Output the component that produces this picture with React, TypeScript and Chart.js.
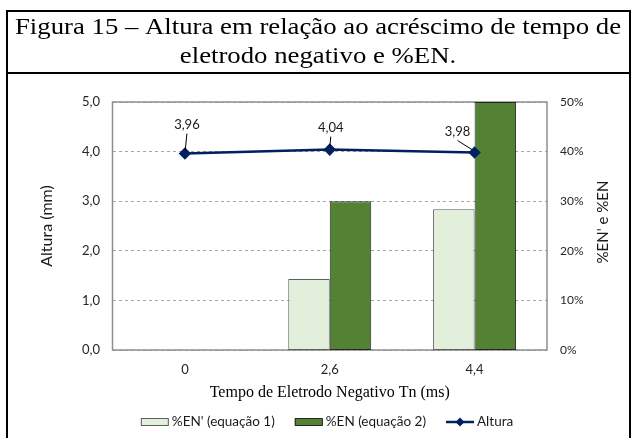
import React, { useEffect, useRef } from 'react';
import { Chart, registerables } from 'chart.js';

Chart.register(...registerables);

const CAPTION_LINES = ['Figura 15 – Altura em relação ao acréscimo de tempo de', 'eletrodo negativo e %EN.'];
const CATEGORIES = ['0', '2,6', '4,4'];
const EN_EQ1 = [0, 14.3, 28.4];
const EN_EQ2 = [0, 30.0, 50.0];
const ALTURA = [3.96, 4.04, 3.98];
const SERIES_LABELS = ["%EN' (equação 1)", '%EN (equação 2)', 'Altura'];
const X_TITLE = 'Tempo de Eletrodo Negativo Tn (ms)';
const Y_LEFT_TITLE = 'Altura (mm)';
const Y_RIGHT_TITLE = "%EN' e %EN";
const LEFT_RANGE = [0, 5, 1];
const RIGHT_RANGE = [0, 50, 10];

const SANS = 'Lato, "Open Sans", "DejaVu Sans", sans-serif';
const SERIF = '"Liberation Serif", "Times New Roman", serif';
const LABEL_OFFSETS = [
  { dx: 2, dy: -29 },
  { dx: 1, dy: -22 },
  { dx: -17, dy: -21 },
];

const fmtComma = (v: number, d: number) => v.toFixed(d).replace('.', ',');

const framePlugin = {
  id: 'frameCaption',
  beforeDraw(chart: any) {
    const { ctx, width, height } = chart;
    ctx.save();
    ctx.fillStyle = '#ffffff';
    ctx.fillRect(0, 0, width, height);
    ctx.strokeStyle = '#000000';
    ctx.lineWidth = 2;
    ctx.beginPath();
    ctx.moveTo(7, height + 2);
    ctx.lineTo(7, 11);
    ctx.lineTo(630, 11);
    ctx.lineTo(630, height + 2);
    ctx.moveTo(6, 73);
    ctx.lineTo(631, 73);
    ctx.stroke();
    ctx.font = `24px ${SERIF}`;
    ctx.fillStyle = '#000000';
    ctx.textAlign = 'center';
    ctx.textBaseline = 'alphabetic';
    const w0 = ctx.measureText(CAPTION_LINES[0]).width;
    const sx = 606 / w0;
    CAPTION_LINES.forEach((line, i) => {
      ctx.save();
      ctx.translate(318, 34 + i * 28.5);
      ctx.scale(sx, 1);
      ctx.fillText(line, 0, 0);
      ctx.restore();
    });
    ctx.restore();
  },
};

const plotBorderPlugin = {
  id: 'plotBorder',
  beforeDatasetsDraw(chart: any) {
    const { ctx, chartArea } = chart;
    ctx.save();
    ctx.strokeStyle = '#8e8e8e';
    ctx.lineWidth = 1.5;
    ctx.strokeRect(chartArea.left, chartArea.top, chartArea.right - chartArea.left, chartArea.bottom - chartArea.top);
    ctx.restore();
  },
};

const rightTitlePlugin = {
  id: 'rightTitle',
  afterDraw(chart: any) {
    const { ctx, chartArea } = chart;
    ctx.save();
    ctx.translate(603, (chartArea.top + chartArea.bottom) / 2 - 4);
    ctx.rotate(-Math.PI / 2);
    ctx.font = `15px ${SANS}`;
    ctx.fillStyle = '#1a1a1a';
    ctx.textAlign = 'center';
    ctx.textBaseline = 'middle';
    ctx.fillText(Y_RIGHT_TITLE, 0, 0);
    ctx.restore();
  },
};

const dataLabelPlugin = {
  id: 'lineLabels',
  afterDatasetsDraw(chart: any) {
    const { ctx } = chart;
    chart.data.datasets.forEach((ds: any, di: number) => {
      if (ds.type !== 'line') return;
      const meta = chart.getDatasetMeta(di);
      meta.data.forEach((pt: any, i: number) => {
        const off = LABEL_OFFSETS[i] || { dx: 0, dy: -22 };
        const lx = pt.x + off.dx;
        const ly = pt.y + off.dy;
        ctx.save();
        ctx.strokeStyle = '#000000';
        ctx.lineWidth = 1;
        ctx.beginPath();
        const sx = lx;
        const sy = ly + 9;
        const ex = pt.x + (sx - pt.x) * 0.15;
        const ey = pt.y - 3;
        ctx.moveTo(sx, sy);
        ctx.lineTo(ex, ey);
        ctx.stroke();
        ctx.font = `13px ${SANS}`;
        ctx.fillStyle = '#1a1a1a';
        ctx.textAlign = 'center';
        ctx.textBaseline = 'middle';
        ctx.fillText(fmtComma(ds.data[i], 2), lx, ly);
        ctx.restore();
      });
    });
  },
};

const legendPlugin = {
  id: 'customLegend',
  afterDraw(chart: any) {
    const { ctx } = chart;
    const ds = chart.data.datasets;
    ctx.save();
    ctx.font = `13.5px ${SANS}`;
    const symW = 28;
    const gapST = 3;
    const gapItems = 20;
    const widths = ds.map((d: any) => ctx.measureText(d.label).width);
    const total = widths.reduce((a: number, w: number) => a + symW + gapST + w, 0) + gapItems * (ds.length - 1);
    let x = 327 - total / 2;
    const y = 422;
    ds.forEach((d: any, i: number) => {
      if (d.type === 'line') {
        ctx.strokeStyle = d.borderColor;
        ctx.lineWidth = 2.5;
        ctx.beginPath();
        ctx.moveTo(x, y);
        ctx.lineTo(x + symW, y);
        ctx.stroke();
        ctx.fillStyle = d.borderColor;
        const cx = x + symW / 2;
        ctx.beginPath();
        ctx.moveTo(cx, y - 4.5);
        ctx.lineTo(cx + 4.5, y);
        ctx.lineTo(cx, y + 4.5);
        ctx.lineTo(cx - 4.5, y);
        ctx.closePath();
        ctx.fill();
      } else {
        ctx.fillStyle = d.backgroundColor;
        ctx.fillRect(x, y - 3.5, symW, 7);
        ctx.strokeStyle = d.borderColor;
        ctx.lineWidth = 1;
        ctx.strokeRect(x + 0.5, y - 3.5, symW - 1, 7);
      }
      ctx.fillStyle = '#1a1a1a';
      ctx.textAlign = 'left';
      ctx.textBaseline = 'middle';
      ctx.fillText(d.label, x + symW + gapST, y);
      x += symW + gapST + widths[i] + gapItems;
    });
    ctx.restore();
  },
};

export default function App() {
  const ref = useRef<HTMLCanvasElement | null>(null);
  useEffect(() => {
    document.body.style.margin = '0';
    if (!ref.current) return;
    const chart = new Chart(ref.current, {
      type: 'bar',
      data: {
        labels: CATEGORIES,
        datasets: [
          {
            type: 'bar',
            label: SERIES_LABELS[0],
            data: EN_EQ1,
            yAxisID: 'y1',
            backgroundColor: '#E2EFDA',
            borderColor: '#5e5e5e',
            borderWidth: 1,
            borderSkipped: false,
            categoryPercentage: 0.573,
            barPercentage: 1.0,
            order: 1,
          },
          {
            type: 'bar',
            label: SERIES_LABELS[1],
            data: EN_EQ2,
            yAxisID: 'y1',
            backgroundColor: '#548235',
            borderColor: '#262626',
            borderWidth: 1,
            borderSkipped: false,
            categoryPercentage: 0.573,
            barPercentage: 1.0,
            order: 2,
          },
          {
            type: 'line',
            label: SERIES_LABELS[2],
            data: ALTURA,
            yAxisID: 'y',
            borderColor: '#002060',
            backgroundColor: '#002060',
            borderWidth: 2.5,
            pointStyle: 'rectRot',
            pointRadius: 4.5,
            pointBackgroundColor: '#002060',
            pointBorderColor: '#002060',
            tension: 0,
            order: 0,
          },
        ] as any,
      },
      options: {
        animation: false,
        responsive: false,
        devicePixelRatio: 1,
        layout: { padding: { top: 102, bottom: 32, left: 0, right: 0 } },
        plugins: {
          legend: { display: false },
          title: { display: false },
          tooltip: { enabled: false },
        },
        scales: {
          x: {
            type: 'category',
            offset: true,
            grid: { display: false, drawTicks: false },
            border: { display: false },
            ticks: { font: { family: SANS, size: 13 }, color: '#262626', padding: 12 },
            title: {
              display: true,
              text: X_TITLE,
              font: { family: SERIF, size: 16 },
              color: '#000000',
              padding: { top: 0, bottom: 3.4 },
            },
            afterFit: (s: any) => { s.height = 56; },
          },
          y: {
            type: 'linear',
            position: 'left',
            min: LEFT_RANGE[0],
            max: LEFT_RANGE[1],
            grid: { color: '#a6a6a6', lineWidth: 1, drawTicks: false },
            border: { display: false, dash: [3, 3] },
            ticks: {
              stepSize: LEFT_RANGE[2],
              font: { family: SANS, size: 13 },
              color: '#262626',
              padding: 12.5,
              callback: (v: any) => fmtComma(Number(v), 1),
            },
            title: {
              display: true,
              text: Y_LEFT_TITLE,
              font: { family: SANS, size: 16 },
              color: '#1a1a1a',
              padding: { top: 37, bottom: 0 },
            },
            afterFit: (s: any) => { s.width = 112.5; },
          },
          y1: {
            type: 'linear',
            position: 'right',
            min: RIGHT_RANGE[0],
            max: RIGHT_RANGE[1],
            grid: { display: false, drawTicks: false },
            border: { display: false },
            ticks: {
              stepSize: RIGHT_RANGE[2],
              font: { family: SANS, size: 12 },
              color: '#262626',
              padding: 13,
              callback: (v: any) => `${v}%`,
            },
            title: { display: false },
            afterFit: (s: any) => { s.width = 84; },
          },
        },
      } as any,
      plugins: [framePlugin, plotBorderPlugin, dataLabelPlugin, legendPlugin, rightTitlePlugin],
    });
    return () => chart.destroy();
  }, []);
  return (
    <div style={{ position: 'absolute', left: 0, top: 0, width: 631, height: 438 }}>
      <canvas ref={ref} width={631} height={438} style={{ display: 'block' }} />
    </div>
  );
}
